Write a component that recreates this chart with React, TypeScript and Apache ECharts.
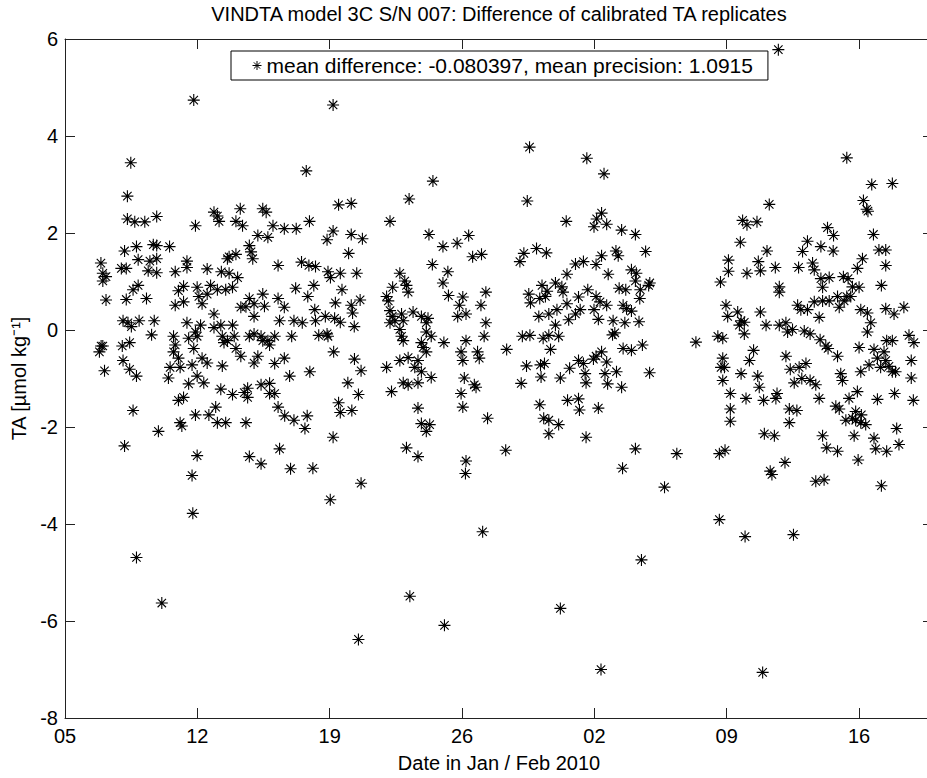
import React, { useEffect, useRef } from "react";
import * as echarts from "echarts";

// Day numbers counted from 0 January 2010 (Feb 2 = 33), values in µmol/kg
const xTickDays = [5, 12, 19, 26, 33, 40, 47];
const xTickLabels = ["05", "12", "19", "26", "02", "09", "16"];
const yTicks = [-8, -6, -4, -2, 0, 2, 4, 6];

const titleText = "VINDTA model 3C S/N 007: Difference of calibrated TA replicates";
const legendText = "mean difference: -0.080397, mean precision: 1.0915";
const xName = "Date in Jan / Feb 2010";
const yName = "TA [µmol kg⁻¹]";

const pointsEarlyJan: [number, number][] = [
  [11.81, 4.74], [8.48, 3.45], [8.3, 2.76], [8.3, 2.29], [8.69, 2.23], [9.22, 2.23], [9.85, 2.34], [11.9, 2.15],
  [12.88, 2.43], [13.06, 2.35], [13.15, 2.24], [14.27, 2.5], [14.04, 2.24], [14.39, 2.15], [15.46, 2.5], [15.64, 2.43],
  [16.0, 2.15], [16.6, 2.09],
  [6.9, 1.38], [7.0, 1.17], [7.0, 1.01], [7.17, 1.1], [8.15, 1.63], [8.78, 1.72], [8.87, 1.45], [7.98, 1.27], [8.24, 1.27],
  [9.67, 1.76], [9.85, 1.74], [10.53, 1.72], [9.49, 1.42], [9.85, 1.47], [9.4, 1.22], [9.85, 1.18], [10.83, 1.2],
  [11.45, 1.42], [11.45, 1.29], [12.52, 1.26], [7.17, 0.62], [8.24, 0.63], [8.6, 0.83], [8.87, 0.92], [9.31, 0.65],
  [13.59, 1.47], [13.68, 1.51], [14.04, 1.56], [13.27, 1.2], [13.68, 1.17], [14.13, 1.08], [14.75, 1.74], [14.84, 1.61],
  [14.93, 1.47], [15.2, 1.95], [15.73, 1.91], [16.27, 1.33],
  [11.0, 0.81], [11.27, 0.9], [10.83, 0.51], [11.27, 0.58], [11.99, 0.88], [12.08, 0.69], [12.25, 0.54], [12.52, 0.74],
  [12.7, 0.92], [13.06, 0.83], [13.5, 0.83], [13.86, 0.88], [12.88, 0.33], [14.3, 0.47], [14.57, 0.48], [14.75, 0.65],
  [15.0, 0.54], [15.0, 0.28], [15.46, 0.74], [15.55, 0.49], [16.27, 0.65], [16.35, 0.19], [16.6, 0.47],
  [8.07, 0.19], [8.33, 0.15], [8.51, 0.07], [8.92, 0.19], [9.72, 0.19], [9.58, -0.1], [6.91, -0.33], [6.82, -0.45],
  [7.0, -0.33], [8.03, -0.33], [8.42, -0.26], [8.07, -0.63], [8.42, -0.81], [8.78, -0.95], [7.09, -0.84],
  [10.74, -0.13], [10.83, -0.31], [10.74, -0.45], [11.0, -0.58], [10.56, -0.77], [11.09, -0.77],
  [11.45, 0.15], [11.54, -0.17], [11.9, -0.04], [12.17, 0.1], [11.81, -0.38], [11.99, -0.13], [11.72, -0.72],
  [12.25, -0.58], [12.52, -0.68], [12.88, 0.05], [13.24, 0.1], [13.32, -0.13], [13.41, -0.26], [13.59, -0.22],
  [13.86, 0.1], [13.95, -0.13], [14.04, -0.38], [14.3, -0.54], [13.32, -0.74], [14.75, -0.13], [15.0, -0.08],
  [15.37, -0.13], [15.46, -0.22], [15.73, -0.22], [15.82, -0.31], [16.09, -0.13], [16.09, -0.69], [16.6, -0.58],
  [15.0, -0.68], [15.2, -0.54],
  [10.47, -0.99], [11.54, -1.11], [11.99, -0.95], [12.34, -1.09], [11.0, -1.45], [11.27, -1.39], [11.9, -1.75],
  [12.61, -1.75], [12.97, -1.59], [13.06, -1.91], [13.5, -1.91], [13.24, -1.22], [13.86, -1.33], [14.48, -1.29],
  [14.66, -1.2], [14.66, -1.39], [15.37, -1.13], [15.82, -1.1], [15.82, -1.31], [16.09, -1.31], [16.27, -1.59],
  [16.62, -1.77], [14.57, -1.91], [11.09, -1.91], [11.18, -1.98], [9.94, -2.09], [8.6, -1.66], [8.15, -2.39],
  [11.99, -2.59], [14.75, -2.61], [15.37, -2.76], [16.35, -2.45],
  [11.72, -3.0], [11.76, -3.78], [8.78, -4.69], [10.12, -5.63],
];

const pointsLateJan: [number, number][] = [
  [19.18, 4.64], [17.76, 3.28], [24.46, 3.07], [23.2, 2.7], [19.47, 2.58], [20.14, 2.61], [17.93, 2.24], [22.19, 2.24],
  [17.23, 2.09], [19.18, 2.04], [20.14, 1.97], [20.73, 1.88], [18.86, 1.86], [20.0, 1.58], [24.25, 1.97], [24.99, 1.72],
  [25.74, 1.79], [26.35, 1.95], [26.56, 1.51], [27.03, 1.56], [24.43, 1.35], [25.25, 1.2], [17.51, 1.4], [17.9, 1.33],
  [18.25, 1.31],
  [17.2, 0.86], [17.84, 0.69], [17.11, 0.19], [17.55, 0.15], [16.99, -0.13],
  [18.91, 1.2], [19.04, 1.08], [19.56, 1.17], [20.43, 1.17], [19.65, 0.83], [19.3, 0.56], [20.14, 0.51], [20.61, 0.62],
  [18.16, 0.92], [18.21, 0.42],
  [18.25, 0.19], [18.77, 0.28], [19.26, 0.24], [19.56, 0.16], [20.21, 0.35], [20.3, 0.07], [18.42, -0.11],
  [18.86, -0.08], [18.91, -0.13], [19.21, -0.45],
  [16.88, -0.95], [17.95, -0.86], [20.31, -0.6], [20.66, -0.84], [19.96, -1.09], [20.52, -1.33], [19.47, -1.5],
  [20.17, -1.66], [19.56, -1.7], [19.18, -2.21], [17.11, -1.86], [17.81, -1.77], [17.69, -2.03], [16.93, -2.86],
  [18.11, -2.85], [20.66, -3.16], [19.03, -3.5], [20.52, -6.38],
  [22.71, 1.17], [22.33, 0.88], [22.01, 0.69], [22.1, 0.6], [22.97, 1.01], [23.06, 0.92], [23.15, 0.78], [22.19, 0.4],
  [22.31, 0.28], [22.45, 0.19], [22.19, 0.15], [22.8, 0.33], [22.89, 0.19], [22.71, 0.01], [22.8, -0.13],
  [22.89, -0.22], [23.41, 0.37], [23.85, 0.28], [24.11, 0.15], [24.2, 0.24], [24.11, -0.04], [24.37, -0.13],
  [23.85, -0.26], [23.94, -0.36], [24.11, -0.45], [23.67, -0.63], [23.5, -0.77], [23.85, -0.86], [24.37, -0.98],
  [23.67, -1.09], [23.15, -1.13], [22.89, -1.09], [22.71, -0.63], [23.15, -0.57], [22.01, -0.77], [22.27, -1.27],
  [23.67, -1.61], [23.85, -1.93], [24.11, -2.09], [24.29, -1.95], [23.06, -2.43], [23.67, -2.61], [23.24, -5.49],
  [25.07, -6.09], [27.09, -4.16],
  [25.86, 0.51], [25.77, 0.28], [26.21, 0.33], [26.04, 0.68], [24.99, 0.97], [25.28, 0.71], [27.26, 0.78], [27.0, 0.51],
  [27.26, 0.15], [27.17, -0.13], [26.21, -0.22], [25.95, -0.45], [26.04, -0.63], [26.82, -0.45], [26.91, -0.58],
  [26.12, -0.99], [26.65, -1.13], [26.74, -1.18], [25.95, -1.31], [26.04, -1.59], [27.35, -1.82], [26.21, -2.7],
  [26.18, -2.96], [25.04, -0.26],
];

const pointsEarlyFeb: [number, number][] = [
  [29.57, 3.77], [32.6, 3.54], [33.51, 3.22], [29.45, 2.66], [31.51, 2.24], [33.38, 2.41], [33.12, 2.29], [32.98, 2.13],
  [33.65, 2.18], [34.44, 2.06], [35.17, 1.97], [35.71, 1.62], [29.27, 1.58], [29.06, 1.41], [29.94, 1.68], [30.46, 1.59],
  [31.55, 1.15], [32.0, 1.36], [32.42, 1.41], [33.09, 1.35], [33.38, 1.53], [34.14, 1.63], [34.26, 1.53], [34.96, 1.24],
  [35.22, 1.17], [35.17, 1.01], [35.93, 0.97], [35.87, 0.92], [33.73, 1.15],
  [30.23, 0.92], [30.5, 0.8], [30.41, 0.69], [30.94, 0.97], [31.28, 0.89], [31.34, 0.78], [29.53, 0.74], [29.62, 0.56],
  [30.11, 0.65], [30.06, 0.28], [30.59, 0.33], [31.02, 0.42], [30.94, 0.1],
  [31.55, 0.54], [31.64, 0.21], [32.0, 0.33], [32.16, 0.68], [32.25, 0.42], [32.65, 0.83], [33.09, 0.69], [32.98, 0.42],
  [33.3, 0.58], [33.65, 0.51], [33.21, 0.22],
  [34.31, 0.86], [34.66, 0.83], [34.52, 0.51], [34.7, 0.44], [34.96, 0.39], [35.4, 0.65], [35.43, 0.83],
  [33.99, 0.19], [34.08, -0.06], [33.96, -0.1], [34.61, 0.15], [35.36, 0.17], [34.52, -0.38], [34.96, -0.42],
  [35.54, -0.31], [35.92, -0.88],
  [29.19, -0.13], [29.59, -0.11], [30.29, -0.17], [30.59, -0.11], [30.68, -0.4], [31.11, -0.13], [28.36, -0.4],
  [29.41, -0.74], [30.15, -0.72], [30.36, -0.69], [29.13, -1.1], [30.18, -0.97], [30.11, -1.54], [30.32, -1.82],
  [30.59, -1.86], [31.11, -1.95], [30.59, -2.14],
  [31.2, -0.99], [31.69, -0.79], [32.16, -0.63], [32.42, -0.69], [32.51, -0.9], [32.56, -1.09], [32.95, -0.6],
  [33.09, -0.54], [33.38, -0.45], [33.65, -0.66], [33.56, -0.9], [34.17, -0.86], [34.44, -1.18], [33.7, -1.11],
  [31.58, -1.45], [32.16, -1.42], [32.21, -1.65], [33.21, -1.61], [32.56, -2.21], [35.17, -2.45], [34.49, -2.85],
  [36.71, -3.24], [37.36, -2.55], [35.49, -4.74], [31.2, -5.74], [33.35, -7.0], [38.37, -0.25], [28.31, -2.48],
];

const pointsMidFeb: [number, number][] = [
  [42.73, 5.78], [46.35, 3.55], [47.67, 3.0], [48.76, 3.02], [47.23, 2.67], [47.4, 2.49], [47.47, 2.45], [42.25, 2.59],
  [40.84, 2.26], [41.07, 2.17], [41.6, 2.23], [45.33, 2.11], [45.65, 1.95], [40.72, 1.81], [42.13, 1.63], [44.01, 1.62],
  [44.27, 1.83], [44.98, 1.72], [45.63, 1.63], [47.76, 1.97], [48.05, 1.65], [48.41, 1.65], [48.41, 1.33], [47.18, 1.47],
  [46.91, 1.27],
  [40.09, 1.44], [40.09, 1.21], [39.67, 0.99], [41.67, 1.41], [41.78, 1.22], [41.07, 1.17], [42.57, 1.29],
  [43.8, 1.29], [44.54, 1.38], [44.63, 1.24], [45.07, 0.88], [44.98, 1.06], [45.42, 1.08], [46.17, 1.1], [46.42, 1.06],
  [47.0, 0.88], [46.65, 0.89], [48.18, 0.92], [42.78, 0.89], [42.78, 0.78],
  [39.96, 0.51], [40.05, 0.28], [40.58, 0.37], [40.76, 0.19], [40.93, 0.16], [40.93, -0.08], [40.67, 0.1], [41.78, 0.37],
  [43.75, 0.51], [43.92, 0.42], [44.27, 0.42], [44.63, 0.58], [44.89, 0.26], [45.07, 0.6], [45.42, 0.6], [45.86, 0.69],
  [45.95, 0.47], [46.21, 0.6], [46.35, 0.69], [46.56, 0.69],
  [47.09, 0.42], [47.44, 0.35], [47.62, 0.15], [47.44, -0.04], [48.41, 0.44], [48.85, 0.33], [49.37, 0.47],
  [42.08, 0.1], [42.78, 0.1], [43.13, 0.15], [43.22, -0.04], [43.48, 0.01], [44.1, -0.02], [44.41, -0.08],
  [44.94, -0.2], [45.24, -0.33], [45.36, -0.38], [45.86, -0.54],
  [39.53, -0.13], [39.79, -0.17], [39.79, -0.58], [39.7, -0.77],
  [47.0, -0.36], [47.79, -0.4], [47.97, -0.58], [48.14, -0.77], [48.41, -0.63], [48.58, -0.75], [48.76, -0.86],
  [48.93, -0.86], [48.76, -0.22], [48.46, -0.22], [48.32, -0.45],
  [47.09, -0.86], [47.53, -0.72], [46.03, -0.9], [46.12, -1.04], [46.47, -1.41], [46.91, -1.27], [47.12, -1.75],
  [47.97, -1.43], [48.88, -1.31],
  [49.64, -0.11], [49.9, -0.26], [49.76, -0.63], [49.76, -0.99], [49.87, -1.45],
  [41.42, -0.42], [41.2, -0.63], [41.64, -0.95], [41.72, -1.18], [42.6, -1.41], [42.66, -1.31], [41.02, -1.41],
  [40.76, -0.9], [39.88, -0.77], [40.19, -1.31], [40.19, -1.63], [40.19, -1.88], [39.79, -1.04],
  [41.95, -1.45], [43.13, -0.54], [43.36, -0.81], [43.57, -1.09], [43.83, -0.77], [43.97, -1.0], [44.19, -0.69],
  [44.41, -1.04], [44.71, -1.13], [44.89, -1.41], [43.31, -1.63], [43.71, -1.66], [43.31, -1.91],
  [45.77, -1.57], [45.95, -1.63], [46.3, -1.86], [46.82, -1.68], [46.65, -1.82], [46.82, -1.86], [47.09, -1.91],
  [46.74, -2.18], [47.35, -1.95],
  [41.99, -2.14], [42.52, -2.18], [45.07, -2.18], [45.29, -2.43], [45.86, -2.5], [46.95, -2.68], [47.79, -2.23],
  [47.88, -2.45], [48.46, -2.5], [48.99, -2.03], [49.11, -2.36],
  [39.61, -2.55], [39.91, -2.48],
  [42.3, -2.91], [42.39, -2.98], [43.08, -2.73], [44.71, -3.12], [45.15, -3.09], [48.18, -3.21],
  [39.61, -3.91], [40.97, -4.26], [43.53, -4.22], [41.9, -7.06],
];

const allPoints = [...pointsEarlyJan, ...pointsLateJan, ...pointsEarlyFeb, ...pointsMidFeb];

const ASTERISK = "path://M5,0L5,10M0,5L10,5M1.5,1.5L8.5,8.5M1.5,8.5L8.5,1.5";
const FONT = "Liberation Sans, Arial, Helvetica, sans-serif";
const AXIS_COLOR = "#222";

function tickLabel(v: number): string {
  const i = xTickDays.findIndex((d) => Math.abs(d - v) < 1e-6);
  return i >= 0 ? xTickLabels[i] : "";
}

export default function App() {
  const ref = useRef<HTMLDivElement>(null);
  useEffect(() => {
    if (!ref.current) return;
    const chart = echarts.init(ref.current, null, { renderer: "svg" });
    const axisCommon = {
      axisLine: { show: true, onZero: false, lineStyle: { color: AXIS_COLOR, width: 1 } },
      axisTick: { show: true, inside: true, length: 10, lineStyle: { color: AXIS_COLOR, width: 1 } },
      splitLine: { show: false },
    };
    chart.setOption({
      animation: false,
      backgroundColor: "#fff",
      title: {
        text: titleText,
        left: 499,
        top: 4,
        textAlign: "center",
        padding: 0,
        textStyle: { fontFamily: FONT, fontSize: 20, fontWeight: "normal", color: "#000" },
      },
      legend: {
        left: 231,
        top: 51,
        data: [{ name: legendText, icon: ASTERISK }],
        itemWidth: 9,
        itemHeight: 9,
        itemStyle: { color: "none", borderColor: "#000", borderWidth: 1 },
        borderColor: "#000",
        borderWidth: 1,
        padding: [4, 15, 4, 19],
        selectedMode: false,
        textStyle: { fontFamily: FONT, fontSize: 21, color: "#000" },
      },
      grid: { left: 65, right: 65, top: 39, bottom: 56, containLabel: false },
      xAxis: [
        {
          type: "value",
          position: "bottom",
          min: 5,
          max: 50.91,
          interval: 7,
          ...axisCommon,
          axisLabel: {
            show: true,
            formatter: (v: number) => tickLabel(v),
            margin: 8,
            fontFamily: FONT,
            fontSize: 20,
            color: "#000",
            showMaxLabel: false,
          },
          name: xName,
          nameLocation: "middle",
          nameGap: 35,
          nameTextStyle: { fontFamily: FONT, fontSize: 20, color: "#000" },
        },
        {
          type: "value",
          position: "top",
          min: 5,
          max: 50.91,
          interval: 7,
          ...axisCommon,
          axisLabel: { show: false },
        },
      ],
      yAxis: [
        {
          type: "value",
          position: "left",
          min: yTicks[0],
          max: yTicks[yTicks.length - 1],
          interval: 2,
          ...axisCommon,
          axisLabel: { show: true, margin: 7, fontFamily: FONT, fontSize: 20, color: "#000" },
          name: yName,
          nameLocation: "middle",
          nameGap: 28,
          nameTextStyle: { fontFamily: FONT, fontSize: 20, color: "#000" },
        },
        {
          type: "value",
          position: "right",
          min: yTicks[0],
          max: yTicks[yTicks.length - 1],
          interval: 2,
          ...axisCommon,
          axisLabel: { show: false },
        },
      ],
      series: [
        {
          name: legendText,
          type: "scatter",
          xAxisIndex: 0,
          yAxisIndex: 0,
          data: allPoints,
          symbol: ASTERISK,
          symbolSize: 12,
          progressive: 0,
          itemStyle: { color: "none", borderColor: "#000", borderWidth: 1.1, opacity: 1 },
          emphasis: { disabled: true },
        },
      ],
    });
    return () => chart.dispose();
  }, []);
  return (
    <div
      style={{
        position: "fixed",
        left: 0,
        top: 0,
        width: 927,
        height: 778,
        overflow: "hidden",
        background: "#fff",
      }}
    >
      <div ref={ref} style={{ width: 998, height: 778 }} />
    </div>
  );
}
